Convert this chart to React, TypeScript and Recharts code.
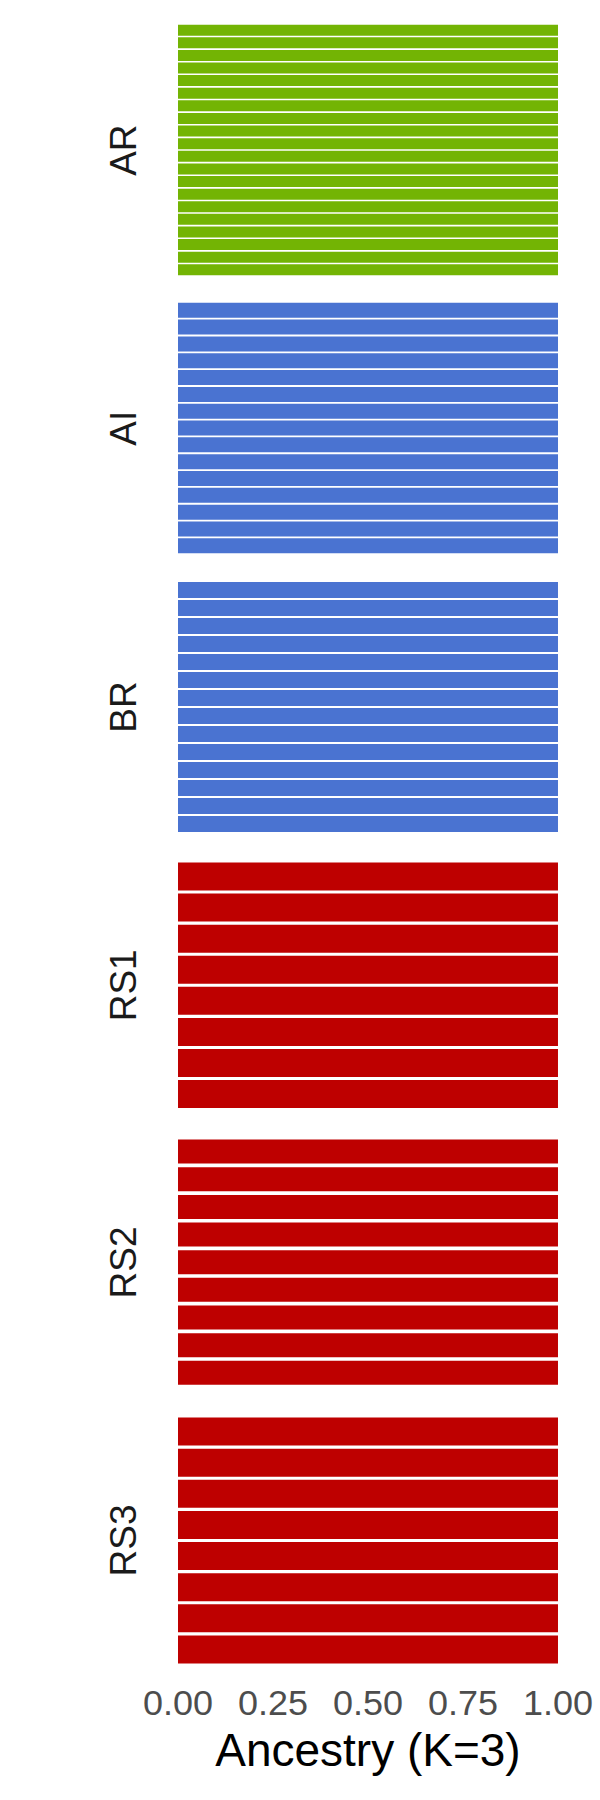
import { BarChart, Bar, XAxis, YAxis } from "recharts";

// ancestry proportions per individual, K=3 clusters
const AR_IDS = ["AR01", "AR02", "AR03", "AR04", "AR05", "AR06", "AR07", "AR08", "AR09", "AR10",
  "AR11", "AR12", "AR13", "AR14", "AR15", "AR16", "AR17", "AR18", "AR19", "AR20"];
const AR_K1 = [1, 1, 1, 1, 1, 1, 1, 1, 1, 1, 1, 1, 1, 1, 1, 1, 1, 1, 1, 1];
const AR_K2 = [0, 0, 0, 0, 0, 0, 0, 0, 0, 0, 0, 0, 0, 0, 0, 0, 0, 0, 0, 0];
const AR_K3 = [0, 0, 0, 0, 0, 0, 0, 0, 0, 0, 0, 0, 0, 0, 0, 0, 0, 0, 0, 0];

const AI_IDS = ["AI01", "AI02", "AI03", "AI04", "AI05", "AI06", "AI07", "AI08", "AI09", "AI10",
  "AI11", "AI12", "AI13", "AI14", "AI15"];
const AI_K1 = [0, 0, 0, 0, 0, 0, 0, 0, 0, 0, 0, 0, 0, 0, 0];
const AI_K2 = [1, 1, 1, 1, 1, 1, 1, 1, 1, 1, 1, 1, 1, 1, 1];
const AI_K3 = [0, 0, 0, 0, 0, 0, 0, 0, 0, 0, 0, 0, 0, 0, 0];

const BR_IDS = ["BR01", "BR02", "BR03", "BR04", "BR05", "BR06", "BR07", "BR08", "BR09", "BR10",
  "BR11", "BR12", "BR13", "BR14"];
const BR_K1 = [0, 0, 0, 0, 0, 0, 0, 0, 0, 0, 0, 0, 0, 0];
const BR_K2 = [1, 1, 1, 1, 1, 1, 1, 1, 1, 1, 1, 1, 1, 1];
const BR_K3 = [0, 0, 0, 0, 0, 0, 0, 0, 0, 0, 0, 0, 0, 0];

const RS1_IDS = ["RS1_01", "RS1_02", "RS1_03", "RS1_04", "RS1_05", "RS1_06", "RS1_07", "RS1_08"];
const RS1_K1 = [0, 0, 0, 0, 0, 0, 0, 0];
const RS1_K2 = [0, 0, 0, 0, 0, 0, 0, 0];
const RS1_K3 = [1, 1, 1, 1, 1, 1, 1, 1];

const RS2_IDS = ["RS2_01", "RS2_02", "RS2_03", "RS2_04", "RS2_05", "RS2_06", "RS2_07", "RS2_08", "RS2_09"];
const RS2_K1 = [0, 0, 0, 0, 0, 0, 0, 0, 0];
const RS2_K2 = [0, 0, 0, 0, 0, 0, 0, 0, 0];
const RS2_K3 = [1, 1, 1, 1, 1, 1, 1, 1, 1];

const RS3_IDS = ["RS3_01", "RS3_02", "RS3_03", "RS3_04", "RS3_05", "RS3_06", "RS3_07", "RS3_08"];
const RS3_K1 = [0, 0, 0, 0, 0, 0, 0, 0];
const RS3_K2 = [0, 0, 0, 0, 0, 0, 0, 0];
const RS3_K3 = [1, 1, 1, 1, 1, 1, 1, 1];

const X_TICKS = [0, 0.25, 0.5, 0.75, 1];

const FONT = "'Liberation Sans', Arial, Helvetica, sans-serif";
const COLORS = { k1: "#73B404", k2: "#4A73D1", k3: "#BE0000" };

// panel placement (page px)
const PANELS = [
  { label: "AR", ids: AR_IDS, k1: AR_K1, k2: AR_K2, k3: AR_K3, top: 24.4, height: 252.3, gap: 1.3 },
  { label: "AI", ids: AI_IDS, k1: AI_K1, k2: AI_K2, k3: AI_K3, top: 302.2, height: 252.3, gap: 1.6 },
  { label: "BR", ids: BR_IDS, k1: BR_K1, k2: BR_K2, k3: BR_K3, top: 580.9, height: 251.9, gap: 2.2 },
  { label: "RS1", ids: RS1_IDS, k1: RS1_K1, k2: RS1_K2, k3: RS1_K3, top: 860.5, height: 248.7, gap: 3 },
  { label: "RS2", ids: RS2_IDS, k1: RS2_K1, k2: RS2_K2, k3: RS2_K3, top: 1138.4, height: 248.9, gap: 3.2 },
  { label: "RS3", ids: RS3_IDS, k1: RS3_K1, k2: RS3_K2, k3: RS3_K3, top: 1416.4, height: 248.9, gap: 3.2 },
];

const AXIS_H = 130;

function StripLabel({ viewBox, text }: any) {
  const cx = viewBox.x + 18;
  const cy = viewBox.y + viewBox.height / 2;
  return (
    <text
      x={cx}
      y={cy}
      transform={`rotate(-90, ${cx}, ${cy})`}
      textAnchor="middle"
      fontSize={37}
      fontFamily={FONT}
      fill="#1A1A1A"
    >
      {text}
    </text>
  );
}

function Panel({ p, last }: { p: (typeof PANELS)[number]; last: boolean }) {
  const rows = p.ids.map((id, i) => ({ id, k1: p.k1[i], k2: p.k2[i], k3: p.k3[i] }));
  return (
    <div style={{ position: "absolute", left: 0, top: p.top }}>
      <BarChart
        width={600}
        height={p.height + (last ? AXIS_H : 0)}
        data={rows}
        layout="vertical"
        margin={{ top: 0, right: 42, bottom: 0, left: 118 }}
        barCategoryGap={p.gap / 2}
      >
        <XAxis
          type="number"
          domain={[0, 1]}
          ticks={X_TICKS}
          interval={0}
          hide={!last}
          height={AXIS_H}
          axisLine={false}
          tickLine={false}
          tickSize={0}
          tickMargin={25}
          tickFormatter={(v: number) => v.toFixed(2)}
          tick={{ fontSize: 36, fill: "#4D4D4D", fontFamily: FONT }}
          label={{
            value: "Ancestry (K=3)",
            position: "insideBottom",
            offset: 29,
            fontSize: 46,
            fill: "#000000",
            fontFamily: FONT,
          }}
        />
        <YAxis
          type="category"
          dataKey="id"
          width={60}
          tick={false}
          axisLine={false}
          tickLine={false}
          label={<StripLabel text={p.label} />}
        />
        <Bar dataKey="k1" stackId="q" fill={COLORS.k1} isAnimationActive={false} />
        <Bar dataKey="k2" stackId="q" fill={COLORS.k2} isAnimationActive={false} />
        <Bar dataKey="k3" stackId="q" fill={COLORS.k3} isAnimationActive={false} />
      </BarChart>
    </div>
  );
}

export default function App() {
  return (
    <div style={{ position: "absolute", left: 0, top: 0, width: 600, height: 1800, background: "#fff" }}>
      {PANELS.map((p, i) => (
        <Panel key={p.label} p={p} last={i === PANELS.length - 1} />
      ))}
    </div>
  );
}
